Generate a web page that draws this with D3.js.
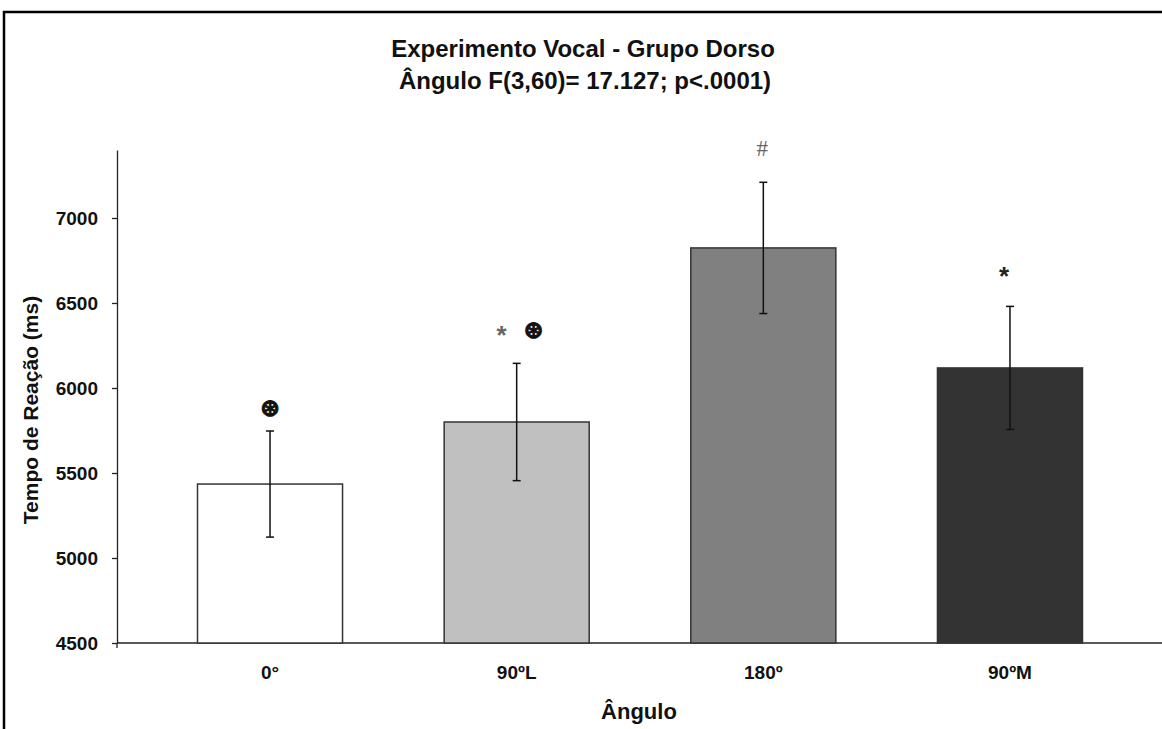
<!DOCTYPE html>
<html>
<head>
<meta charset="utf-8">
<script src="https://cdn.jsdelivr.net/npm/d3@7"></script>
<style>
  body { margin: 0; background: #fff; }
  svg { display: block; }
</style>
</head>
<body>
<div id="chart"></div>
<script>
// data
const categories = ["0°", "90ºL", "180º", "90ºM"];
const means = [5435, 5800, 6824, 6118];
const errors = [312, 345, 386, 362];
const yTicks = [4500, 5000, 5500, 6000, 6500, 7000];
const marks = [["⊛"], ["*", "⊛"], ["#"], ["*"]];

const W = 1162, H = 729;
const fills = ["#ffffff", "#c0c0c0", "#808080", "#333333"];

var svg = d3.select("#chart")
  .append("svg")
  .attr("width", W)
  .attr("height", H)
  .style("font-family", "'Liberation Sans', Arial, sans-serif");

// outer frame (bottom & right run off the picture)
svg.append("rect")
  .attr("x", 4).attr("y", 12)
  .attr("width", 1300).attr("height", 900)
  .attr("fill", "none")
  .attr("stroke", "#000")
  .attr("stroke-width", 2.5);

// title
var title = svg.append("text")
  .attr("text-anchor", "middle")
  .style("font-weight", "bold")
  .style("font-size", "24px")
  .attr("fill", "#111");
title.append("tspan").attr("x", 583).attr("y", 57).text("Experimento Vocal - Grupo Dorso");
title.append("tspan").attr("x", 585).attr("y", 89).text("Ângulo F(3,60)= 17.127; p<.0001)");

var x = d3.scaleBand()
  .domain(categories)
  .range([146.7, 1133.3])
  .paddingInner(0.412)
  .paddingOuter(0.206);

var y = d3.scaleLinear()
  .domain([4500, 7400])
  .range([643, 150]);

var color = d3.scaleOrdinal(categories, fills);

// x axis line spans to the right edge
svg.append("line")
  .attr("x1", 117).attr("x2", W)
  .attr("y1", 643).attr("y2", 643)
  .attr("stroke", "#222").attr("stroke-width", 1.3);

// bars
var rows = categories.map((c, i) => ({ cat: c, mean: means[i], err: errors[i], marks: marks[i] }));

svg.append("g")
  .selectAll("rect")
  .data(rows)
  .enter()
  .append("rect")
  .attr("x", d => x(d.cat))
  .attr("y", d => y(d.mean))
  .attr("width", x.bandwidth())
  .attr("height", d => y(4500) - y(d.mean))
  .attr("fill", d => color(d.cat))
  .attr("stroke", "#333")
  .attr("stroke-width", 1.5);

// error bars
var eb = svg.append("g").attr("stroke", "#111").attr("stroke-width", 1.5);
rows.forEach(function (d) {
  var cx = x(d.cat) + x.bandwidth() / 2;
  eb.append("line")
    .attr("x1", cx).attr("x2", cx)
    .attr("y1", y(d.mean + d.err)).attr("y2", y(d.mean - d.err));
  [d.mean + d.err, d.mean - d.err].forEach(function (v) {
    eb.append("line")
      .attr("x1", cx - 4).attr("x2", cx + 4)
      .attr("y1", y(v)).attr("y2", y(v));
  });
});

// significance marks above the error bars
var gaps = [23, 33, 34, 35];
var shifts = [[0], [-15, 17], [-1], [-6]];
rows.forEach(function (d, i) {
  var cx = x(d.cat) + x.bandwidth() / 2;
  var cy = y(d.mean + d.err) - gaps[i];
  d.marks.forEach(function (m, j) {
    var t = svg.append("text")
      .attr("x", cx + shifts[i][j])
      .attr("text-anchor", "middle")
      .text(m);
    if (m == "⊛") {
      t.attr("y", cy + 8)
        .style("font-family", "'DejaVu Sans', sans-serif")
        .style("font-size", "24px")
        .style("font-weight", "bold")
        .attr("fill", "#111")
        .attr("stroke", "#111")
        .attr("stroke-width", 1);
    } else if (m == "#") {
      t.attr("y", cy + 8)
        .style("font-family", "'Liberation Serif', serif")
        .style("font-size", "23px")
        .attr("fill", "#666");
    } else {
      t.attr("y", cy + 14)
        .style("font-size", "26px")
        .style("font-weight", "bold")
        .attr("fill", i == 1 ? "#666" : "#222");
    }
  });
});

// y axis
var yAxis = svg.append("g")
  .attr("transform", "translate(117,0)")
  .call(d3.axisLeft(y).tickValues(yTicks).tickFormat(d3.format("d"))
    .tickSize(5).tickPadding(14).tickSizeOuter(0));
yAxis.select(".domain").attr("stroke", "#222").attr("stroke-width", 1.3);
yAxis.selectAll(".tick line").attr("stroke", "#222").attr("stroke-width", 1.3);
yAxis.selectAll(".tick text")
  .attr("fill", "#111")
  .style("font-family", "'Liberation Sans', Arial, sans-serif")
  .style("font-size", "19px")
  .style("font-weight", "bold");
// little tick below the origin
svg.append("line")
  .attr("x1", 117).attr("x2", 117)
  .attr("y1", 643).attr("y2", 648)
  .attr("stroke", "#222").attr("stroke-width", 1.3);

// x axis labels
var xAxis = svg.append("g")
  .attr("transform", "translate(0,643)")
  .call(d3.axisBottom(x).tickSize(0).tickPadding(23));
xAxis.select(".domain").remove();
xAxis.selectAll(".tick text")
  .attr("fill", "#111")
  .style("font-family", "'Liberation Sans', Arial, sans-serif")
  .style("font-size", "19px")
  .style("font-weight", "bold");

// axis titles
svg.append("text")
  .attr("x", 639).attr("y", 719)
  .attr("text-anchor", "middle")
  .style("font-size", "22px")
  .style("font-weight", "bold")
  .attr("fill", "#111")
  .text("Ângulo");

svg.append("text")
  .attr("transform", "translate(38,410) rotate(-90)")
  .attr("text-anchor", "middle")
  .style("font-size", "21px")
  .style("font-weight", "bold")
  .attr("fill", "#111")
  .text("Tempo de Reação (ms)");
</script>
</body>
</html>
